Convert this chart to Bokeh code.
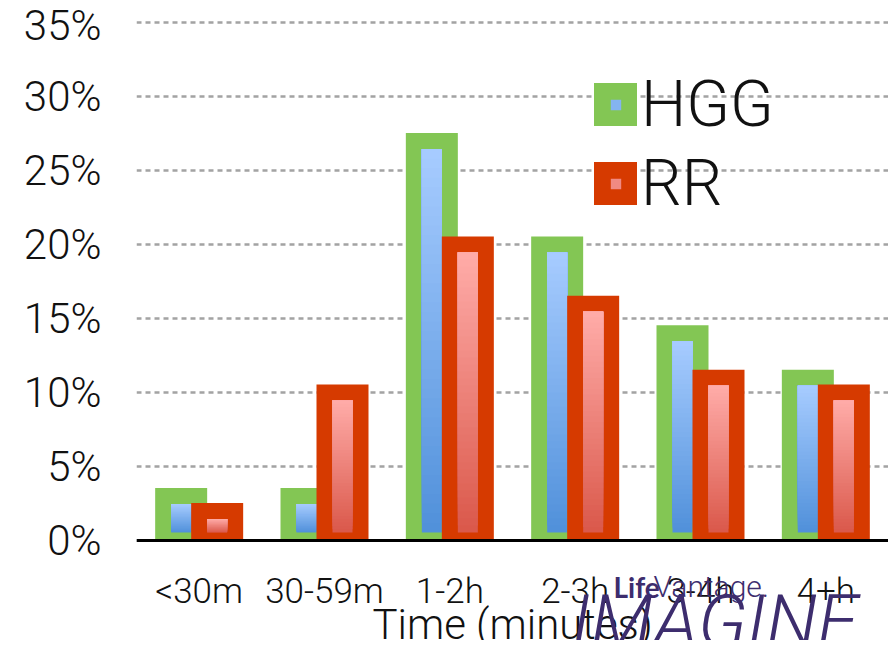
import numpy as np
from bokeh.plotting import figure
from bokeh.models import (ColumnDataSource, FactorRange, FixedTicker, Legend,
                          LegendItem, Label, Range1d)
from bokeh.transform import dodge
from bokeh.embed import file_html
from bokeh.resources import INLINE

# ---------------- data ----------------
categories = ["<30m", "30-59m", "1-2h", "2-3h", "3-4h", "4+h"]
hgg = [3, 3, 27, 20, 14, 11]
rr = [2, 10, 20, 16, 11, 10]
series_names = ["HGG", "RR"]
y_ticks = [0, 5, 10, 15, 20, 25, 30, 35]
y_tick_labels = ["0%", "5%", "10%", "15%", "20%", "25%", "30%", "35%"]
x_axis_title = "Time (minutes)"
watermark_a = "Life"
watermark_b = "Vantage."
watermark_c = "IMAGINE"

# ---------------- styles / layout ----------------
FONT = "Roboto Light, Roboto, sans-serif"
GREEN = "#83C654"
RED = "#D63A00"
BLUE_TOP, BLUE_BOT = (167, 204, 255), (80, 144, 218)
PINK_TOP, PINK_BOT = (255, 172, 169), (218, 88, 74)
PURPLE = "#3d2d6e"

PX_PER_UNIT = 14.8                     # vertical pixels per percentage point
Y_END = 35 + 2 / PX_PER_UNIT           # frame top just above the 35% line
Y_START = -100 / PX_PER_UNIT           # frame runs down to the canvas bottom
FRAME_W = 752
PX_PER_CAT = FRAME_W / len(categories)
BORDER_PX = 16
inset = BORDER_PX / 2 / PX_PER_UNIT    # half border, in data units
OUTER_W = 52 / PX_PER_CAT              # bar width incl. border, category units
INNER_W = 20 / PX_PER_CAT
OFFSET = 18 / PX_PER_CAT
N_STRIPS = 40


def hexcol(c):
    return "#%02x%02x%02x" % tuple(int(round(v)) for v in c)


def mix(a, b, t):
    return tuple(a[i] + (b[i] - a[i]) * t for i in range(3))


def strips(vals, top_c, bot_c):
    xs, bs, ts, cs = [], [], [], []
    for k in range(N_STRIPS):
        for cat, v in zip(categories, vals):
            lo, hi = inset, v - inset
            b = lo + (hi - lo) * k / N_STRIPS
            xs.append(cat)
            bs.append(b)
            ts.append(hi)
            cs.append(hexcol(mix(bot_c, top_c, (k + 0.5) / N_STRIPS)))
    return ColumnDataSource(dict(x=xs, bottom=bs, top=ts, color=cs))


src = ColumnDataSource(dict(cat=categories,
                            hgg_outer=[v + inset for v in hgg],
                            rr_outer=[v + inset for v in rr]))

p = figure(x_range=FactorRange(*categories), y_range=Range1d(Y_START, Y_END),
           width=888, height=640, output_backend="svg", toolbar_location=None,
           min_border_left=136, min_border_right=0, min_border_top=20,
           min_border_bottom=0)
p.outline_line_color = None
p.background_fill_color = "white"
p.border_fill_color = "white"

# grid
p.xgrid.grid_line_color = None
p.ygrid.grid_line_color = "#a3a3a3"
p.ygrid.grid_line_width = 2.5
p.ygrid.grid_line_dash = "5 4"
p.yaxis.ticker = FixedTicker(ticks=y_ticks)
p.ygrid.ticker = FixedTicker(ticks=y_ticks)

# y axis
p.yaxis.major_label_overrides = {t: l for t, l in zip(y_ticks, y_tick_labels)}
p.yaxis.axis_line_color = None
p.yaxis.major_tick_line_color = None
p.yaxis.minor_tick_line_color = None
p.yaxis.major_label_text_font = FONT
p.yaxis.major_label_text_font_size = "42px"
p.yaxis.major_label_text_color = "#111111"
p.yaxis.major_label_standoff = 29

# x axis, pinned at 0% (its title runs off the bottom edge as in the source)
p.xaxis.fixed_location = 0
p.xaxis.axis_line_color = "black"
p.xaxis.axis_line_width = 3
p.xaxis.major_tick_line_color = None
p.xaxis.minor_tick_line_color = None
p.xaxis.major_label_text_font = FONT
p.xaxis.major_label_text_font_size = "35px"
p.xaxis.major_label_text_color = "#111111"
p.xaxis.major_label_standoff = 24
p.xaxis.axis_label = x_axis_title
p.xaxis.axis_label_text_font = FONT
p.xaxis.axis_label_text_font_size = "42px"
p.xaxis.axis_label_text_font_style = "normal"
p.xaxis.axis_label_text_color = "#111111"
p.xaxis.axis_label_standoff = -15

# bars: coloured frame + gradient core
hgg_mid = hexcol(mix(BLUE_BOT, BLUE_TOP, 0.6))
rr_mid = hexcol(mix(PINK_BOT, PINK_TOP, 0.6))

p.vbar(x=dodge("cat", -OFFSET, range=p.x_range), top="hgg_outer", bottom=0,
       width=OUTER_W, source=src, fill_color=GREEN, line_color=None)
p.vbar(x=dodge("x", -OFFSET, range=p.x_range), top="top", bottom="bottom",
       width=INNER_W, source=strips(hgg, BLUE_TOP, BLUE_BOT),
       fill_color="color", line_color=None)

p.vbar(x=dodge("cat", OFFSET, range=p.x_range), top="rr_outer", bottom=0,
       width=OUTER_W, source=src, fill_color=RED, line_color=None)
p.vbar(x=dodge("x", OFFSET, range=p.x_range), top="top", bottom="bottom",
       width=INNER_W, source=strips(rr, PINK_TOP, PINK_BOT),
       fill_color="color", line_color=None)

# legend swatches: hidden renderers styled only for the legend key
key_src = ColumnDataSource(dict(cat=categories[:1], hgg=hgg[:1], rr=rr[:1]))
lg_hgg = p.vbar(x="cat", top="hgg", width=0.1, source=key_src,
                fill_color=hgg_mid, line_color=GREEN, line_width=24,
                line_join="miter", visible=False)
lg_rr = p.vbar(x="cat", top="rr", width=0.1, source=key_src,
               fill_color=rr_mid, line_color=RED, line_width=24,
               line_join="miter", visible=False)

legend = Legend(items=[LegendItem(label=series_names[0], renderers=[lg_hgg]),
                       LegendItem(label=series_names[1], renderers=[lg_rr])],
                location=(458, 419), glyph_width=43, glyph_height=43,
                label_text_font=FONT, label_text_font_size="64px",
                label_text_color="#111111", spacing=4, padding=0, margin=0,
                border_line_color=None, background_fill_alpha=0,
                inactive_fill_alpha=0, label_standoff=4)
p.add_layout(legend)

# watermark
p.add_layout(Label(x=613, y=603, x_units="canvas", y_units="canvas",
                   text=watermark_a, text_font="Lato", text_font_style="bold",
                   text_font_size="28px", text_color=PURPLE))
p.add_layout(Label(x=653, y=603, x_units="canvas", y_units="canvas",
                   text=watermark_b, text_font=FONT,
                   text_font_size="30px", text_color=PURPLE))
p.add_layout(Label(x=571, y=664, x_units="canvas", y_units="canvas",
                   text=watermark_c, text_font=FONT, text_font_style="italic",
                   text_font_size="74px", text_color=PURPLE))

open("out.html", "w").write(file_html(p, INLINE))
